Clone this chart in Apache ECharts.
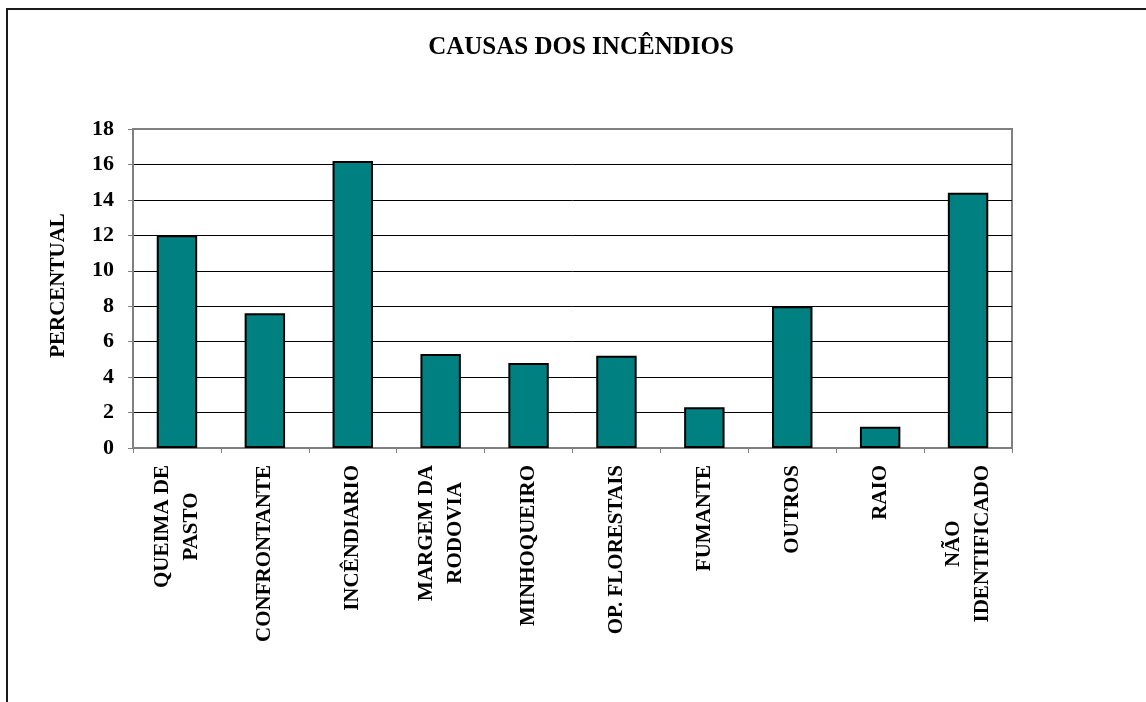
<!DOCTYPE html>
<html>
<head>
<meta charset="utf-8">
<script src="https://cdn.jsdelivr.net/npm/echarts@6/dist/echarts.min.js"></script>
<style>
  html, body { margin: 0; padding: 0; background: #fff; }
  #chart { width: 1146px; height: 702px; }
</style>
</head>
<body>
<div id="chart"></div>
<script>
// causas dos incendios (percentual)
const causas = [
  'QUEIMA DE\nPASTO', 'CONFRONTANTE', 'INCÊNDIARIO', 'MARGEM DA\nRODOVIA',
  'MINHOQUEIRO', 'OP. FLORESTAIS', 'FUMANTE', 'OUTROS', 'RAIO', 'NÃO\nIDENTIFICADO'
]
const percentual = [12.0, 7.6, 16.2, 5.3, 4.8, 5.2, 2.3, 8.0, 1.2, 14.4]
const yTicks = { min: 0, max: 18, interval: 2 }

const fonte = '"Liberation Serif", "Times New Roman", serif'

const chart = echarts.init(document.getElementById('chart'))
chart.setOption({
  backgroundColor: '#fff',
  animation: false,
  title: {
    text: 'CAUSAS DOS INCÊNDIOS',
    left: 576,
    textAlign: 'center',
    top: 30,
    textStyle: { fontFamily: fonte, fontWeight: 'bold', fontSize: 25, color: '#000' }
  },
  // moldura externa (so topo e esquerda aparecem)
  graphic: [
    { type: 'line', shape: { x1: 6, y1: 9, x2: 1146, y2: 9 }, style: { stroke: '#1a1a1a', lineWidth: 2 } },
    { type: 'line', shape: { x1: 7, y1: 9, x2: 7, y2: 702 }, style: { stroke: '#1a1a1a', lineWidth: 2 } }
  ],
  grid: {
    left: 133, right: 134, top: 129, bottom: 254,
    show: true, borderColor: '#808080', borderWidth: 2, backgroundColor: 'transparent'
  },
  xAxis: {
    type: 'category',
    data: causas,
    axisLine: { lineStyle: { color: '#808080', width: 2 } },
    axisTick: { show: true, length: 5, lineStyle: { color: '#808080', width: 1 } },
    axisLabel: {
      rotate: 90,
      margin: 17,
      interval: 0,
      color: '#000',
      fontFamily: fonte,
      fontWeight: 'bold',
      fontSize: 21,
      lineHeight: 29,
      formatter: (v) => v.split('\n').map(s => '{c|' + s + '}').join('\n'),
      rich: {
        c: { align: 'center', fontFamily: fonte, fontWeight: 'bold', fontSize: 21, lineHeight: 29, color: '#000' }
      }
    }
  },
  yAxis: {
    type: 'value',
    min: yTicks.min,
    max: yTicks.max,
    interval: yTicks.interval,
    name: 'PERCENTUAL',
    nameLocation: 'middle',
    nameRotate: 90,
    nameGap: 64,
    nameTextStyle: { fontFamily: fonte, fontWeight: 'bold', fontSize: 21, color: '#000', padding: [0, 0, 0, 6] },
    axisLine: { show: true, lineStyle: { color: '#808080', width: 2 } },
    axisTick: { show: true, length: 5, lineStyle: { color: '#808080', width: 1 } },
    axisLabel: { margin: 19, color: '#000', fontFamily: fonte, fontWeight: 'bold', fontSize: 22 },
    splitLine: { show: true, showMaxLine: false, lineStyle: { color: '#000', width: 1 } }
  },
  series: [
    {
      type: 'bar',
      data: percentual,
      barWidth: '46%',
      itemStyle: { color: '#008080', borderColor: '#000', borderWidth: 2 }
    }
  ]
})
</script>
</body>
</html>
